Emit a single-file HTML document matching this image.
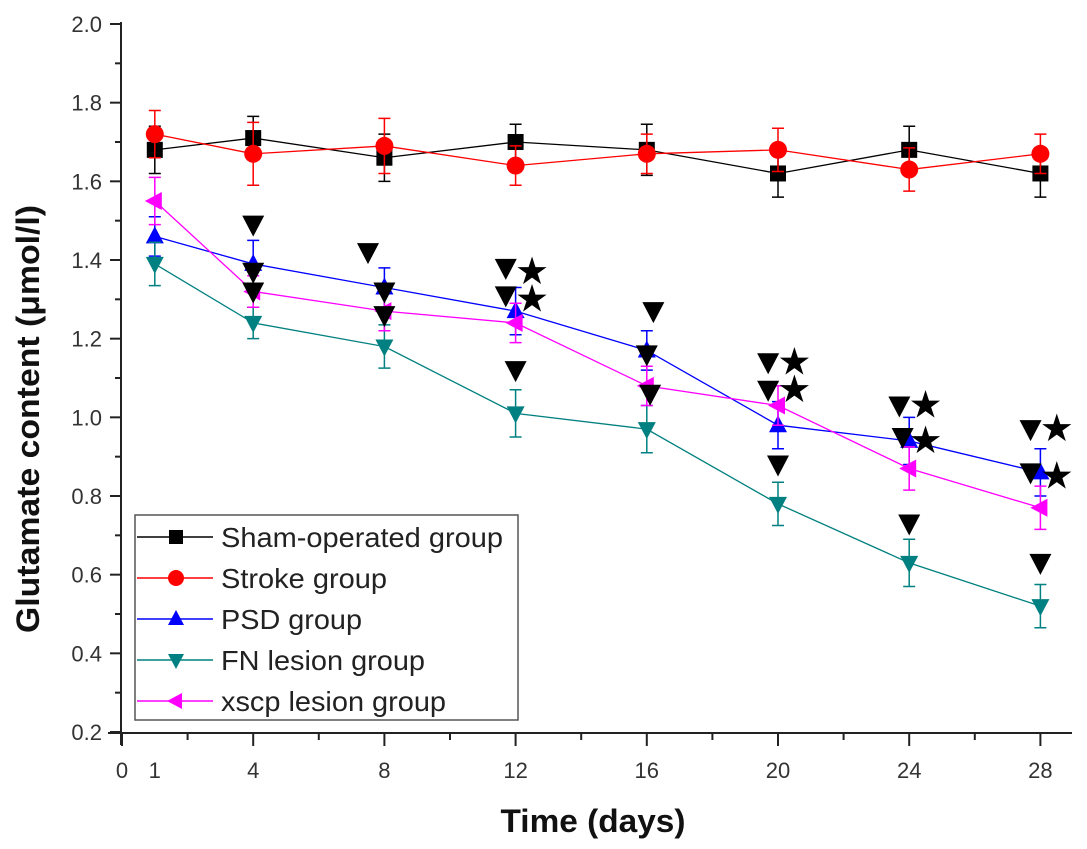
<!DOCTYPE html>
<html><head><meta charset="utf-8"><style>
body{margin:0;background:#fff;}
svg{display:block;font-family:"Liberation Sans",Arial,sans-serif;}
</style></head><body>
<svg id="chart" width="1087" height="849" viewBox="0 0 1087 849" xmlns="http://www.w3.org/2000/svg">
<g id="axes"></g><g id="series"></g><g id="annot"></g><g id="legend"></g>
<text x="0" y="0" transform="translate(39,419) rotate(-90)" text-anchor="middle" font-size="32" font-weight="bold" fill="#111" textLength="428" lengthAdjust="spacingAndGlyphs">Glutamate content (μmol/l)</text>
<text x="593" y="832" text-anchor="middle" font-size="32" font-weight="bold" fill="#111" textLength="185" lengthAdjust="spacingAndGlyphs">Time (days)</text>
</svg>
<script>
const days=[1,4,8,12,16,20,24,28];
const xTicks=[0,1,4,8,12,16,20,24,28];
const yTicks=[0.2,0.4,0.6,0.8,1.0,1.2,1.4,1.6,1.8,2.0];
const shamVals=[1.68,1.71,1.66,1.70,1.68,1.62,1.68,1.62];
const strokeVals=[1.72,1.67,1.69,1.64,1.67,1.68,1.63,1.67];
const psdVals=[1.46,1.39,1.33,1.27,1.17,0.98,0.94,0.86];
const fnVals=[1.39,1.24,1.18,1.01,0.97,0.78,0.63,0.52];
const xscpVals=[1.55,1.32,1.27,1.24,1.08,1.03,0.87,0.77];
const shamErr=[0.06,0.055,0.06,0.045,0.065,0.06,0.06,0.06];
const strokeErr=[0.06,0.08,0.07,0.05,0.05,0.055,0.055,0.05];
const psdErr=[0.05,0.06,0.05,0.06,0.05,0.06,0.06,0.06];
const fnErr=[0.055,0.04,0.055,0.06,0.06,0.055,0.06,0.055];
const xscpErr=[0.06,0.04,0.05,0.05,0.05,0.05,0.055,0.055];
const triDays=[4,4,4,7.5,8,8,11.7,11.7,12,16.2,16,16.1,19.7,19.7,20,23.7,23.8,24,27.7,27.7,28];
const triVals=[1.49,1.37,1.32,1.42,1.32,1.26,1.38,1.31,1.12,1.27,1.16,1.06,1.14,1.07,0.88,1.03,0.95,0.73,0.97,0.86,0.63];
const starDays=[12.5,12.5,20.5,20.5,24.5,24.5,28.5,28.5];
const starVals=[1.37,1.30,1.14,1.07,1.03,0.94,0.97,0.85];

const NS="http://www.w3.org/2000/svg";
const X=d=>122+d*32.8;
const Y=v=>732-(v-0.2)/1.8*708;
function mk(tag,attrs,parent){const e=document.createElementNS(NS,tag);for(const k in attrs)e.setAttribute(k,attrs[k]);parent.appendChild(e);return e;}
const axes=document.getElementById('axes');
let l=mk('line',{x1:121,y1:22,x2:121,y2:745,stroke:'#222','stroke-width':2},axes);


l=mk('line',{x1:108,y1:733,x2:1072,y2:733,stroke:'#222','stroke-width':2},axes);


yTicks.forEach((v,i)=>{
  mk('line',{x1:110,y1:Y(v),x2:121,y2:Y(v),stroke:'#222','stroke-width':2},axes);
  if(i<yTicks.length-1)mk('line',{x1:115,y1:Y(v+0.1),x2:121,y2:Y(v+0.1),stroke:'#222','stroke-width':2},axes);
  const t=mk('text',{x:102,y:Y(v)+8,'text-anchor':'end','font-size':22,fill:'#333'},axes);
  t.textContent=v.toFixed(1);
  
  
});
for(let d=2;d<=28;d+=4)mk('line',{x1:X(d),y1:733,x2:X(d),y2:740,stroke:'#222','stroke-width':2},axes);
xTicks.forEach(d=>{
  if(d!==1)mk('line',{x1:X(d),y1:733,x2:X(d),y2:746,stroke:'#222','stroke-width':2},axes);
  const t=mk('text',{x:X(d),y:778,'text-anchor':'middle','font-size':22,fill:'#333'},axes);
  t.textContent=d;
  
  
});
function marker(type,x,y,color,g,s){
  s=s||9;
  if(type==='sq')return mk('rect',{x:x-s+1,y:y-s+1,width:2*s-2,height:2*s-2,fill:color},g);
  if(type==='ci')return mk('circle',{cx:x,cy:y,r:s,fill:color},g);
  if(type==='up')return mk('polygon',{points:`${x},${y-s-1} ${x-s},${y+s-2} ${x+s},${y+s-2}`,fill:color},g);
  if(type==='dn')return mk('polygon',{points:`${x},${y+s+1} ${x-s},${y-s+2} ${x+s},${y-s+2}`,fill:color},g);
  if(type==='lt')return mk('polygon',{points:`${x-s-1},${y} ${x+s-2},${y-s} ${x+s-2},${y+s}`,fill:color},g);
}
const series=[
 {name:'Sham-operated group',vals:shamVals,err:shamErr,color:'#000',m:'sq',key:'sham'},
 {name:'Stroke group',vals:strokeVals,err:strokeErr,color:'#f00',m:'ci',key:'stroke'},
 {name:'PSD group',vals:psdVals,err:psdErr,color:'#00f',m:'up',key:'psd'},
 {name:'FN lesion group',vals:fnVals,err:fnErr,color:'#008080',m:'dn',key:'fn'},
 {name:'xscp lesion group',vals:xscpVals,err:xscpErr,color:'#f0f',m:'lt',key:'xscp'}];
const sg=document.getElementById('series');
series.forEach(s=>{
  const g=mk('g',{},sg);
  
  
  mk('polyline',{points:days.map((d,i)=>X(d)+','+Y(s.vals[i])).join(' '),fill:'none',stroke:s.color,'stroke-width':1.3},g);
  days.forEach((d,i)=>{
    const x=X(d),y1=Y(s.vals[i]+s.err[i]),y2=Y(s.vals[i]-s.err[i]);
    mk('path',{d:`M${x},${y1}V${y2}M${x-6},${y1}H${x+6}M${x-6},${y2}H${x+6}`,stroke:s.color,'stroke-width':1.5,fill:'none'},g);
    const m=marker(s.m,x,Y(s.vals[i]),s.color,g);
    
    
  });
});
const ag=document.getElementById('annot');
triDays.forEach((d,i)=>{
  const m=marker('dn',X(d),Y(triVals[i]),'#000',ag,11);
  
  
});
starDays.forEach((d,i)=>{
  const t=mk('text',{x:X(d),y:Y(starVals[i])+12,'text-anchor':'middle','font-size':38,fill:'#000',
    'font-family':'DejaVu Sans, sans-serif'},ag);
  t.textContent='★';
  
  
});
const lg=document.getElementById('legend');
const box=mk('rect',{x:135,y:515,width:383,height:205,fill:'#fff',stroke:'#555','stroke-width':1.5},lg);


const legW=[282,166,141,204,225];
series.forEach((s,i)=>{
  const y=537+i*41;
  const g=mk('g',{},lg);
  
  
  mk('line',{x1:137,y1:y,x2:213,y2:y,stroke:s.color,'stroke-width':1.5},g);
  marker(s.m,176,y,s.color,g,8);
  const t=mk('text',{x:221,y:y+10,'font-size':28,fill:'#222',textLength:legW[i],lengthAdjust:'spacingAndGlyphs'},g);
  t.textContent=s.name;
});
</script>
</body></html>
